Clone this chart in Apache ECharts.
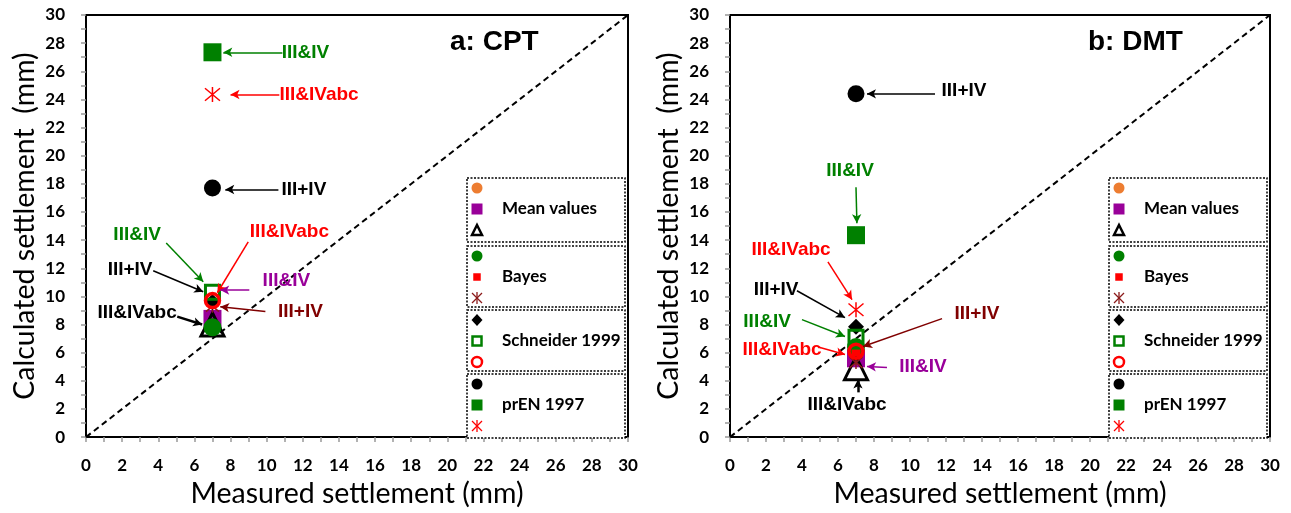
<!DOCTYPE html>
<html>
<head>
<meta charset="utf-8">
<script src="https://cdn.jsdelivr.net/npm/echarts@6/dist/echarts.min.js"></script>
<style>
html,body{margin:0;padding:0;background:#fff;}
#chart{width:1291px;height:513px;}
</style>
</head>
<body>
<div id="chart"></div>
<script>
// ---------- DATA (index 0 = a: CPT, index 1 = b: DMT) ----------
const panelTitles = ['a: CPT', 'b: DMT'];
const axisTicks = [0, 2, 4, 6, 8, 10, 12, 14, 16, 18, 20, 22, 24, 26, 28, 30];
const identityLine = [0, 30];
const measured = [7.0, 7.0];

const mean_IIIplusIV      = [8.0, 6.1];
const mean_IIIandIV       = [8.4, 5.6];
const mean_IIIandIVabc    = [8.0, 4.9];
const bayes_IIIplusIV     = [7.8, 6.4];
const bayes_IIIandIV      = [9.5, 5.9];
const bayes_IIIandIVabc   = [9.3, 5.3];
const schneider_IIIplusIV    = [9.6, 7.85];
const schneider_IIIandIV     = [10.3, 7.1];
const schneider_IIIandIVabc  = [9.7, 6.1];
const prEN_IIIplusIV     = [17.7, 24.4];
const prEN_IIIandIV      = [27.35, 14.35];
const prEN_IIIandIVabc   = [24.35, 9.05];

const groupNames = ['Mean values', 'Bayes', 'Schneider 1999', 'prEN 1997'];

// annotation texts (label centre, arrow start, arrow tip) in data units
const annotations = [
  [
    ['III&IV', '#008000', 12.15, 27.35, 10.87, 27.35, 7.6, 27.35],
    ['III&IVabc', '#ff0000', 12.9, 24.35, 10.7, 24.35, 8.0, 24.35],
    ['III+IV', '#000000', 12.06, 17.6, 10.65, 17.6, 7.71, 17.6],
    ['III&IV', '#008000', 2.83, 14.4, 4.44, 13.8, 6.49, 11.04],
    ['III&IVabc', '#ff0000', 11.26, 14.58, 8.98, 13.87, 7.27, 10.26],
    ['III+IV', '#000000', 2.44, 11.9, 3.72, 11.82, 6.49, 10.33],
    ['III&IV', '#990099', 11.09, 11.1, 9.04, 10.45, 7.43, 10.45],
    ['III+IV', '#800000', 11.87, 8.92, 9.93, 8.92, 7.43, 9.27],
    ['III&IVabc', '#000000', 2.83, 8.85, 5.05, 8.56, 6.43, 8.0]
  ],
  [
    ['III+IV', '#000000', 13.0, 24.6, 11.39, 24.4, 7.61, 24.4],
    ['III&IV', '#008000', 6.67, 18.9, 7.0, 17.76, 7.05, 15.2],
    ['III&IVabc', '#ff0000', 3.39, 13.3, 5.44, 12.46, 6.78, 9.77],
    ['III+IV', '#000000', 2.56, 10.47, 3.72, 10.4, 6.39, 8.49],
    ['III&IV', '#008000', 2.06, 8.2, 4.0, 8.35, 6.39, 7.15],
    ['III&IVabc', '#ff0000', 2.89, 6.23, 5.0, 6.37, 6.39, 5.87],
    ['III+IV', '#800000', 13.72, 8.78, 11.78, 8.42, 7.39, 6.44],
    ['III&IV', '#990099', 10.72, 5.02, 8.72, 4.95, 7.61, 5.02],
    ['III&IVabc', '#000000', 6.5, 2.33, 7.11, 3.18, 7.11, 4.1]
  ]
];

// ---------- STYLES ----------
const ASTER = 'path://M0,0L10,10M10,0L0,10M5,-1L5,11';
const markerDefs = [
  {name:'Mean III+IV', group:0, vals:mean_IIIplusIV, kind:'circle', color:'#ED7D31', size:14},
  {name:'Mean III&IV', group:0, vals:mean_IIIandIV, kind:'rect', color:'#990099', size:18},
  {name:'Mean III&IVabc', group:0, vals:mean_IIIandIVabc, kind:'triangleHollow', color:'#000000', size:23},
  {name:'Bayes III+IV', group:1, vals:bayes_IIIplusIV, kind:'circle', color:'#008000', size:18},
  {name:'Bayes III&IV', group:1, vals:bayes_IIIandIV, kind:'rect', color:'#ff0000', size:9},
  {name:'Bayes III&IVabc', group:1, vals:bayes_IIIandIVabc, kind:'aster', color:'#8B1a1a', size:13},
  {name:'Schneider III+IV', group:2, vals:schneider_IIIplusIV, kind:'diamond', color:'#000000', size:16},
  {name:'Schneider III&IV', group:2, vals:schneider_IIIandIV, kind:'rectHollow', color:'#008000', size:14},
  {name:'Schneider III&IVabc', group:2, vals:schneider_IIIandIVabc, kind:'circleHollow', color:'#ff0000', size:14},
  {name:'prEN III+IV', group:3, vals:prEN_IIIplusIV, kind:'circle', color:'#000000', size:17},
  {name:'prEN III&IV', group:3, vals:prEN_IIIandIV, kind:'rect', color:'#008000', size:18},
  {name:'prEN III&IVabc', group:3, vals:prEN_IIIandIVabc, kind:'aster', color:'#ff0000', size:15}
];

function markerStyle(d) {
  const t = d.kind;
  if (t === 'circle') return {symbol:'circle', itemStyle:{color:d.color, opacity:1}};
  if (t === 'rect') return {symbol:'rect', itemStyle:{color:d.color, opacity:1}};
  if (t === 'diamond') return {symbol:'diamond', itemStyle:{color:d.color, opacity:1}};
  if (t === 'triangleHollow') return {symbol:'triangle', itemStyle:{color:'rgba(0,0,0,0)', borderColor:d.color, borderWidth:3, opacity:1}};
  if (t === 'rectHollow') return {symbol:'rect', itemStyle:{color:'rgba(0,0,0,0)', borderColor:d.color, borderWidth:3, opacity:1}};
  if (t === 'circleHollow') return {symbol:'circle', itemStyle:{color:'rgba(0,0,0,0)', borderColor:d.color, borderWidth:3.5, opacity:1}};
  if (t === 'aster') return {symbol:ASTER, itemStyle:{color:'rgba(0,0,0,0)', borderColor:d.color, borderWidth:1.5, opacity:1}};
}

const gridBoxes = [
  {left:86, top:15, width:542, height:423},
  {left:730, top:15, width:540, height:423}
];

const tickFont = {fontFamily:'Lato', fontWeight:'bold', fontSize:17, color:'#000'};
const nameFont = {fontFamily:'Lato', fontSize:28.5, color:'#000'};

const xAxes = [], yAxes = [], grids = [], series = [];
for (let p = 0; p < 2; p++) {
  grids.push(Object.assign({show:true, borderColor:'#000', borderWidth:2, backgroundColor:'#fff'}, gridBoxes[p]));
  const common = {
    gridIndex:p, type:'value', min:axisTicks[0], max:axisTicks[axisTicks.length-1], interval:axisTicks[1]-axisTicks[0],
    axisLine:{show:true, lineStyle:{color:'#000', width:1.5}},
    axisTick:{show:true, length:5, lineStyle:{color:'#999', width:1.5}},
    minorTick:{show:true, splitNumber:2, length:5, lineStyle:{color:'#999', width:1.5}},
    splitLine:{show:false},
    axisLabel:Object.assign({margin:21}, tickFont),
    nameLocation:'middle', nameTextStyle:nameFont
  };
  xAxes.push(Object.assign({}, common, {name:'Measured settlement (mm)', nameGap:41, axisLabel:Object.assign({margin:20}, tickFont)}));
  yAxes.push(Object.assign({}, common, {name:'Calculated settlement  (mm)', nameGap:47}));

  series.push({
    type:'line', xAxisIndex:p, yAxisIndex:p, silent:true, symbol:'none', z:1,
    data:[[identityLine[0], identityLine[0]], [identityLine[1], identityLine[1]]],
    lineStyle:{color:'#000', width:2, type:[6,4]}
  });

  markerDefs.forEach((d, i) => {
    const st = markerStyle(d);
    series.push({
      type:'scatter', name:d.name, xAxisIndex:p, yAxisIndex:p, z:2 + i * 0.01, silent:true,
      symbol:st.symbol, symbolSize:d.size, itemStyle:st.itemStyle,
      data:[[measured[p], d.vals[p]]]
    });
  });

  const ann = annotations[p];
  series.push({
    type:'scatter', xAxisIndex:p, yAxisIndex:p, silent:true, z:5, symbolSize:0,
    itemStyle:{opacity:1},
    data: ann.map(a => ({name:a[0], value:[a[2], a[3]],
      label:{show:true, position:'inside', formatter:a[0], color:a[1],
        fontFamily:'Liberation Sans', fontWeight:'bold', fontSize:19}})),
    markLine:{
      silent:true, symbol:['none','arrow'], symbolSize:[7,9], label:{show:false},
      data: ann.map((a, k) => [
        {coord:[a[4], a[5]], lineStyle:{color:a[1], width:(k === 8 ? 2.5 : 1.5), type:'solid', opacity:1}},
        {coord:[a[6], a[7]]}
      ])
    }
  });
}

// ---------- LEGEND BOXES (graphic) ----------
const graphics = [];
const legendBoxX = [467, 1109];
const legendBoxW = 158;
const legendBoxY = [[178,242],[246,307],[310,371],[374,438]];
function legendMarker(d, cx, cy) {
  const c = d.color;
  switch (d.kind) {
    case 'circle': return [{type:'circle', shape:{cx:cx, cy:cy, r:5.5}, style:{fill:c}}];
    case 'rect': {
      const s = d.size < 12 ? 7.5 : 11;
      return [{type:'rect', shape:{x:cx-s/2, y:cy-s/2, width:s, height:s}, style:{fill:c}}];
    }
    case 'diamond': return [{type:'polygon', shape:{points:[[cx,cy-6],[cx+5.5,cy],[cx,cy+6],[cx-5.5,cy]]}, style:{fill:c}}];
    case 'triangleHollow': return [{type:'polygon', shape:{points:[[cx,cy-5],[cx+5,cy+5],[cx-5,cy+5]]}, style:{fill:'none', stroke:c, lineWidth:2.5}}];
    case 'rectHollow': return [{type:'rect', shape:{x:cx-4.5, y:cy-4.5, width:9, height:9}, style:{fill:'none', stroke:c, lineWidth:2.5}}];
    case 'circleHollow': return [{type:'circle', shape:{cx:cx, cy:cy, r:5}, style:{fill:'none', stroke:c, lineWidth:2.5}}];
    case 'aster': {
      const st = {stroke:c, lineWidth:1.3};
      return [
        {type:'line', shape:{x1:cx-5, y1:cy-5, x2:cx+5, y2:cy+5}, style:st},
        {type:'line', shape:{x1:cx+5, y1:cy-5, x2:cx-5, y2:cy+5}, style:st},
        {type:'line', shape:{x1:cx, y1:cy-6, x2:cx, y2:cy+6}, style:st}
      ];
    }
  }
}
for (let p = 0; p < 2; p++) {
  const bx = legendBoxX[p];
  groupNames.forEach((g, gi) => {
    const [y0, y1] = legendBoxY[gi];
    graphics.push({type:'rect', z:10, shape:{x:bx, y:y0, width:legendBoxW, height:y1-y0},
      style:{fill:'#fff', stroke:'#000', lineWidth:1.5, lineDash:[2,1.5]}});
    const members = markerDefs.filter(d => d.group === gi);
    members.forEach((d, k) => {
      legendMarker(d, bx + 10, y0 + 10 + k * 21).forEach(m => { m.z = 11; graphics.push(m); });
    });
    graphics.push({type:'text', z:11, x:bx + 35, y:y0 + 31,
      style:{text:g, fill:'#000', font:'bold 17px Lato', verticalAlign:'middle', align:'left'}});
  });
}
const titlePos = [[450, 42], [1088, 42]];
panelTitles.forEach((t, p) => {
  graphics.push({type:'text', z:11, x:titlePos[p][0], y:titlePos[p][1],
    style:{text:t, fill:'#000', font:'bold 28px "Liberation Sans"', verticalAlign:'middle', align:'left'}});
});

const chart = echarts.init(document.getElementById('chart'), null, {renderer:'canvas'});
chart.setOption({
  animation:false,
  backgroundColor:'#fff',
  grid:grids, xAxis:xAxes, yAxis:yAxes, series:series, graphic:graphics
});
</script>
</body>
</html>
